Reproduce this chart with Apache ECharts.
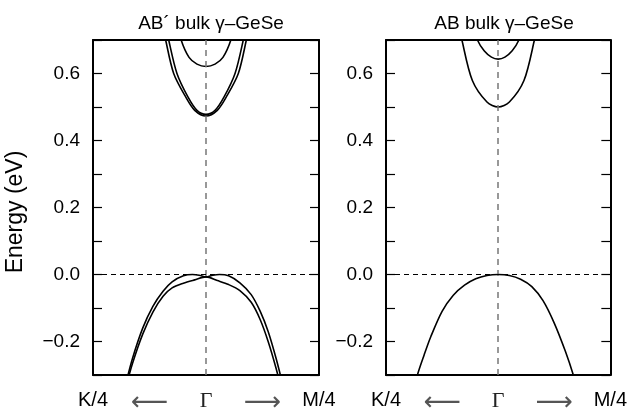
<!DOCTYPE html>
<html>
<head>
<meta charset="utf-8">
<title>GeSe bands</title>
<script src="https://cdn.jsdelivr.net/npm/echarts@6/dist/echarts.min.js"></script>
<style>
  html, body { margin: 0; padding: 0; background: #fff; }
  #main { width: 630px; height: 416px; }
</style>
</head>
<body>
<div id="main"></div>
<script>
// panel titles and k-path labels
var titles = ['AB\u00b4 bulk \u03b3\u2013GeSe', 'AB bulk \u03b3\u2013GeSe'];
var kTicks = [-1, -0.5, 0, 0.5, 1];
var kLabels = ['K/4', '\u27f5', '\u0393', '\u27f6', 'M/4'];

// AB' panel: conduction bands (k in units of half path, E in eV)
var kAbpCb1 = [-0.4, -0.357, -0.286, -0.18, -0.1, 0, 0.1, 0.18, 0.286, 0.357, 0.4];
var eAbpCb1 = [0.77, 0.7, 0.6, 0.53, 0.49, 0.473, 0.49, 0.53, 0.6, 0.7, 0.77];
var kAbpCb2 = [-0.37, -0.33, -0.257, -0.16, -0.08, 0, 0.08, 0.16, 0.257, 0.33, 0.37];
var eAbpCb2 = [0.77, 0.7, 0.6, 0.53, 0.49, 0.478, 0.49, 0.53, 0.6, 0.7, 0.77];
var kAbpCb3 = [-0.26, -0.22, -0.15, -0.08, 0, 0.08, 0.15, 0.22, 0.26];
var eAbpCb3 = [0.76, 0.7, 0.648, 0.628, 0.621, 0.628, 0.648, 0.7, 0.76];
// AB' panel: valence bands
var kAbpVb1 = [-0.72, -0.65, -0.56, -0.47, -0.38, -0.3, -0.2, -0.12, -0.06, 0, 0.06, 0.12, 0.2, 0.3, 0.4, 0.48, 0.55, 0.62, 0.68];
var eAbpVb1 = [-0.34, -0.25, -0.16, -0.095, -0.05, -0.022, -0.004, 0.0, -0.002, -0.007, -0.002, 0.0, -0.004, -0.025, -0.06, -0.11, -0.17, -0.25, -0.33];
var kAbpVb2 = [-0.72, -0.65, -0.56, -0.47, -0.38, -0.3, -0.2, -0.1, 0, 0.1, 0.2, 0.3, 0.4, 0.48, 0.55, 0.62, 0.68];
var eAbpVb2 = [-0.35, -0.265, -0.178, -0.112, -0.065, -0.04, -0.026, -0.016, -0.007, -0.018, -0.03, -0.048, -0.083, -0.135, -0.2, -0.28, -0.36];

// AB panel
var kAbCb1 = [-0.37, -0.323, -0.23, -0.1, 0, 0.1, 0.23, 0.323, 0.37];
var eAbCb1 = [0.78, 0.7, 0.579, 0.515, 0.5, 0.515, 0.579, 0.7, 0.78];
var kAbCb2 = [-0.23, -0.185, -0.125, -0.06, 0, 0.06, 0.125, 0.185, 0.23];
var eAbCb2 = [0.75, 0.7, 0.668, 0.649, 0.643, 0.649, 0.668, 0.7, 0.75];
var kAbVb = [-0.76, -0.72, -0.66, -0.6, -0.5, -0.4, -0.3, -0.2, -0.1, 0, 0.1, 0.2, 0.3, 0.4, 0.5, 0.6, 0.67, 0.71];
var eAbVb = [-0.36, -0.3, -0.24, -0.185, -0.11, -0.062, -0.032, -0.013, -0.003, 0, -0.003, -0.014, -0.036, -0.078, -0.145, -0.23, -0.3, -0.35];

var font = 'Liberation Sans, Arial, sans-serif';

function pairs(k, e) {
  return k.map(function (v, i) { return [v, e[i]]; });
}

// panel 0 uses xAxis 0 / yAxis 0, panel 1 uses xAxis 2 / yAxis 2
function band(panel, k, e, extra) {
  var s = {
    type: 'line',
    xAxisIndex: panel * 2,
    yAxisIndex: panel * 2,
    data: pairs(k, e),
    smooth: 0.3,
    showSymbol: false,
    silent: true,
    lineStyle: { color: '#000', width: 1.6 }
  };
  if (extra) s.markLine = extra;
  return s;
}

function guides() {
  return {
    silent: true,
    symbol: 'none',
    label: { show: false },
    data: [
      { xAxis: 0, lineStyle: { color: '#777', width: 1.5, type: [6, 5] } },
      { yAxis: 0, lineStyle: { color: '#000', width: 1, type: [5, 4] } }
    ]
  };
}

function yLabel(v) {
  var r = Math.round(v * 10);
  if (r % 2 !== 0) return '';
  return (r < 0 ? '\u2212' : '') + Math.abs(v).toFixed(1);
}

var grids = [
  { left: 93, top: 40, width: 226, height: 337 },
  { left: 386, top: 40, width: 226, height: 337 }
];

var frameLine = { show: true, onZero: false, lineStyle: { color: '#000', width: 2 } };

var xAxes = [], yAxes = [];
[0, 1].forEach(function (i) {
  xAxes.push({
    type: 'value', gridIndex: i, min: -1, max: 1, interval: 0.5,
    axisLine: frameLine,
    axisTick: { show: false },
    splitLine: { show: false },
    axisLabel: {
      margin: 15, color: '#000', fontFamily: font, fontSize: 20,
      showMinLabel: true, showMaxLabel: true,
      formatter: function (v) {
        var j = kTicks.indexOf(Math.round(v * 2) / 2);
        var t = kLabels[j];
        if (t === '\u0393') return '{g|' + t + '}';
        if (j === 1 || j === 3) return '{a|' + t + '}';
        return t;
      },
      rich: {
        g: { fontFamily: 'Liberation Serif, DejaVu Serif, serif', fontSize: 22, color: '#222' },
        a: { fontFamily: 'DejaVu Sans, sans-serif', fontSize: 26, color: '#555' }
      }
    }
  });
  // top border line
  xAxes.push({
    type: 'value', gridIndex: i, position: 'top', min: -1, max: 1,
    axisLine: frameLine, axisTick: { show: false },
    axisLabel: { show: false }, splitLine: { show: false }
  });
  yAxes.push({
    type: 'value', gridIndex: i, min: -0.3, max: 0.7, interval: 0.1,
    position: 'left',
    axisLine: frameLine,
    axisTick: { show: true, inside: true, length: 9, lineStyle: { color: '#000', width: 1.2 } },
    splitLine: { show: false },
    axisLabel: { margin: 13, color: '#000', fontFamily: font, fontSize: 19, formatter: yLabel }
  });
  yAxes.push({
    type: 'value', gridIndex: i, min: -0.3, max: 0.7, interval: 0.1,
    position: 'right',
    axisLine: frameLine,
    axisTick: { show: true, inside: true, length: 9, lineStyle: { color: '#000', width: 1.2 } },
    splitLine: { show: false },
    axisLabel: { show: false }
  });
});

var chart = echarts.init(document.getElementById('main'));
chart.setOption({
  animation: false,
  backgroundColor: '#fff',
  title: [
    { text: titles[0], left: 206, top: 9, textAlign: 'center',
      textStyle: { fontFamily: font, fontSize: 19, fontWeight: 'normal', color: '#000' } },
    { text: titles[1], left: 499, top: 9, textAlign: 'center',
      textStyle: { fontFamily: font, fontSize: 19, fontWeight: 'normal', color: '#000' } }
  ],
  graphic: [{
    type: 'text', x: 16, y: 212, rotation: Math.PI / 2,
    style: { text: 'Energy (eV)', fontFamily: font, fontSize: 23, fill: '#000',
      textAlign: 'center', textVerticalAlign: 'middle' }
  }],
  grid: grids,
  xAxis: xAxes,
  yAxis: yAxes,
  series: [
    band(0, kAbpCb1, eAbpCb1, guides()),
    band(0, kAbpCb2, eAbpCb2),
    band(0, kAbpCb3, eAbpCb3),
    band(0, kAbpVb1, eAbpVb1),
    band(0, kAbpVb2, eAbpVb2),
    band(1, kAbCb1, eAbCb1, guides()),
    band(1, kAbCb2, eAbCb2),
    band(1, kAbVb, eAbVb)
  ]
});
</script>
</body>
</html>
